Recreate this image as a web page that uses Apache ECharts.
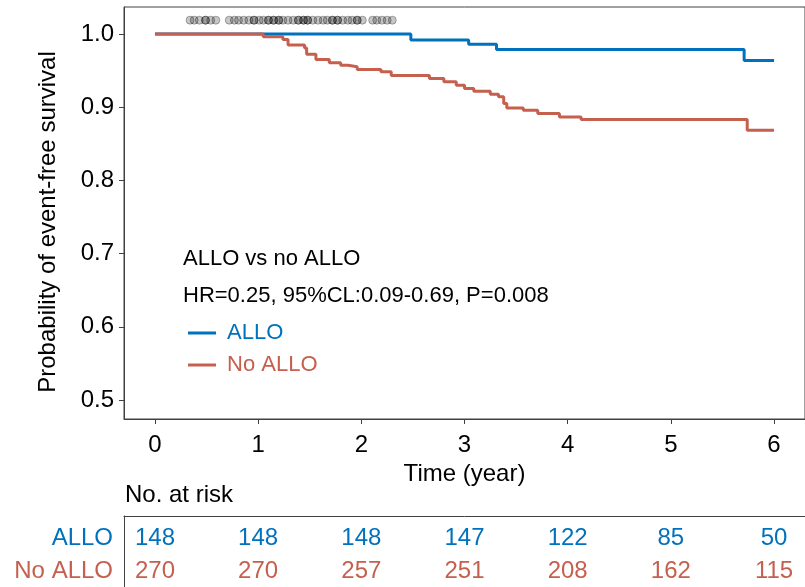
<!DOCTYPE html>
<html>
<head>
<meta charset="utf-8">
<title>Event-free survival</title>
<script src="https://cdn.jsdelivr.net/npm/echarts@6/dist/echarts.min.js"></script>
<style>
    html, body { margin: 0; padding: 0; background: #fff; }
    #chart { width: 805px; height: 587px; }
</style>
</head>
<body>
<div id="chart"></div>
<script>
    // survival curves (Kaplan-Meier steps), time in years
    var alloTimes = [0, 2.48, 3.04, 3.31, 5.71, 6.0];
    var alloSurv = [1.0, 0.992, 0.986, 0.979, 0.964, 0.964];

    var noAlloTimes = [0, 1.05, 1.24, 1.29, 1.45, 1.47, 1.56, 1.69, 1.80, 1.87, 1.96, 2.19, 2.29, 2.66, 2.80, 2.92, 3.00,
        3.09, 3.25, 3.33, 3.38, 3.41, 3.57, 3.71, 3.92, 4.13, 5.74, 6.0];
    var noAlloSurv = [1.0, 0.9963, 0.9927, 0.985, 0.981, 0.9725, 0.9653, 0.9607, 0.9575, 0.9553, 0.9516, 0.9484, 0.9434,
        0.9393, 0.9347, 0.9301, 0.9256, 0.9219, 0.9178, 0.9142, 0.905, 0.8991, 0.8959, 0.8913, 0.8868, 0.8831, 0.8685, 0.8685];

    // censor marks along the top
    var censorTimes = [0.34, 0.38, 0.43, 0.49, 0.49, 0.54, 0.59,
        0.72, 0.77, 0.81, 0.86, 0.91, 0.96, 0.96, 1.01, 1.05, 1.10, 1.10, 1.15, 1.15, 1.20, 1.20, 1.24, 1.29,
        1.34, 1.39, 1.39, 1.44, 1.44, 1.48, 1.48, 1.53, 1.58, 1.63, 1.67, 1.72, 1.72, 1.77, 1.77, 1.82, 1.87,
        1.91, 1.96, 1.96, 2.01,
        2.11, 2.15, 2.20, 2.25, 2.30];
    var censorLevel = 1.019;

    // axes
    var xTicks = [0, 1, 2, 3, 4, 5, 6];
    var yTicks = [0.5, 0.6, 0.7, 0.8, 0.9, 1.0];

    // number at risk table
    var riskGroups = ['ALLO', 'No ALLO'];
    var riskAllo = [148, 148, 148, 147, 122, 85, 50];
    var riskNoAllo = [270, 270, 257, 251, 208, 162, 115];

    var blue = '#0072bd',
        red = '#c5604f',
        font = "'Liberation Sans', Arial, sans-serif",
        frame = '#404040';

    var pairs = function (xs, ys) {
        var out = [], i;
        for (i = 0; i < xs.length; i++) {
            out.push([xs[i], ys[i]]);
        }
        return out;
    };

    var censorData = [], i;
    for (i = 0; i < censorTimes.length; i++) {
        censorData.push([censorTimes[i], censorLevel]);
    }

    var riskData = function (counts, row) {
        var out = [], j;
        for (j = 0; j < counts.length; j++) {
            out.push([xTicks[j], row, counts[j]]);
        }
        return out;
    };

    var riskLabel = function (color) {
        return {
            show: true, position: 'inside', color: color, fontSize: 24, fontFamily: font,
            textBorderWidth: 0, textBorderColor: 'transparent',
            formatter: function (p) { return p.value[2]; }
        };
    };

    var myChart = echarts.init(document.getElementById('chart'), null, {renderer: 'canvas'});

    var option = {
        animation: false,
        textStyle: {fontFamily: font},
        grid: [
            {left: 124, right: -9, top: 7, bottom: 168, show: true, borderColor: frame, borderWidth: 1},
            {left: 124, right: -9, top: 516, bottom: 0}
        ],
        xAxis: [
            {
                type: 'value', gridIndex: 0, min: -0.3, max: 6.3,
                name: 'Time (year)', nameLocation: 'middle', nameGap: 43,
                nameTextStyle: {fontSize: 24, color: '#000', fontFamily: font},
                axisLine: {show: true, onZero: false, lineStyle: {color: frame, width: 1}},
                axisTick: {show: true, inside: false, length: 5, customValues: xTicks, lineStyle: {color: frame, width: 1}},
                axisLabel: {fontSize: 24, color: '#000', margin: 14, customValues: xTicks, fontFamily: font},
                splitLine: {show: false}
            },
            {
                type: 'value', gridIndex: 1, min: -0.3, max: 6.3, position: 'top',
                axisLine: {show: true, onZero: false, lineStyle: {color: frame, width: 1}},
                axisTick: {show: false}, axisLabel: {show: false}, splitLine: {show: false}
            }
        ],
        yAxis: [
            {
                type: 'value', gridIndex: 0, min: 0.474, max: 1.037,
                name: 'Probability of event-free survival', nameLocation: 'middle', nameGap: 64,
                nameTextStyle: {fontSize: 24, color: '#000', fontFamily: font, padding: [0, 18, 0, 0]},
                axisLine: {show: true, onZero: false, lineStyle: {color: frame, width: 1}},
                axisTick: {show: true, inside: false, length: 5, customValues: yTicks, lineStyle: {color: frame, width: 1}},
                axisLabel: {
                    fontSize: 24, color: '#000', margin: 10, customValues: yTicks, fontFamily: font,
                    formatter: function (v) { return v.toFixed(1); }
                },
                splitLine: {show: false}
            },
            {
                type: 'value', gridIndex: 1, min: 0.33, max: 2.48, inverse: true,
                axisLine: {show: true, onZero: false, lineStyle: {color: frame, width: 1}},
                axisTick: {show: false},
                axisLabel: {
                    customValues: [1, 2], margin: 11, fontFamily: font,
                    formatter: function (v) {
                        return v === 1 ? '{a|' + riskGroups[0] + '}' : '{b|' + riskGroups[1] + '}';
                    },
                    rich: {
                        a: {color: blue, fontSize: 24, fontFamily: font},
                        b: {color: red, fontSize: 24, fontFamily: font}
                    }
                },
                splitLine: {show: false}
            }
        ],
        legend: {
            orient: 'vertical', left: 183, top: 317, itemWidth: 28, itemHeight: 3, itemGap: 10,
            icon: 'rect',
            textStyle: {fontSize: 22, fontFamily: font, padding: [0, 0, 0, 6]},
            data: [
                {name: 'ALLO', textStyle: {color: blue}},
                {name: 'No ALLO', textStyle: {color: red}}
            ]
        },
        graphic: [
            {type: 'text', left: 183, top: 248, style: {text: 'ALLO vs no ALLO', font: '22px ' + font, fill: '#000'}},
            {type: 'text', left: 183, top: 285, style: {text: 'HR=0.25, 95%CL:0.09-0.69, P=0.008', font: '22px ' + font, fill: '#000'}},
            {type: 'text', left: 125, top: 483, style: {text: 'No. at risk', font: '24px ' + font, fill: '#000'}}
        ],
        series: [
            {
                name: 'censored', type: 'scatter', xAxisIndex: 0, yAxisIndex: 0,
                symbolSize: 8, data: censorData, z: 1,
                itemStyle: {color: 'rgba(0,0,0,0.22)', borderColor: 'rgba(0,0,0,0.3)', borderWidth: 1, opacity: 1}
            },
            {
                name: 'ALLO', type: 'line', step: 'end', xAxisIndex: 0, yAxisIndex: 0,
                symbol: 'none', data: pairs(alloTimes, alloSurv), z: 2,
                lineStyle: {color: blue, width: 3}, itemStyle: {color: blue}
            },
            {
                name: 'No ALLO', type: 'line', step: 'end', xAxisIndex: 0, yAxisIndex: 0,
                symbol: 'none', data: pairs(noAlloTimes, noAlloSurv), z: 3,
                lineStyle: {color: red, width: 3}, itemStyle: {color: red}
            },
            {
                name: 'risk ALLO', type: 'scatter', xAxisIndex: 1, yAxisIndex: 1,
                symbolSize: 1, data: riskData(riskAllo, 1), itemStyle: {color: 'rgba(255,255,255,0)', opacity: 1},
                label: riskLabel(blue)
            },
            {
                name: 'risk No ALLO', type: 'scatter', xAxisIndex: 1, yAxisIndex: 1,
                symbolSize: 1, data: riskData(riskNoAllo, 2), itemStyle: {color: 'rgba(255,255,255,0)', opacity: 1},
                label: riskLabel(red)
            }
        ]
    };

    myChart.setOption(option);
</script>
</body>
</html>
